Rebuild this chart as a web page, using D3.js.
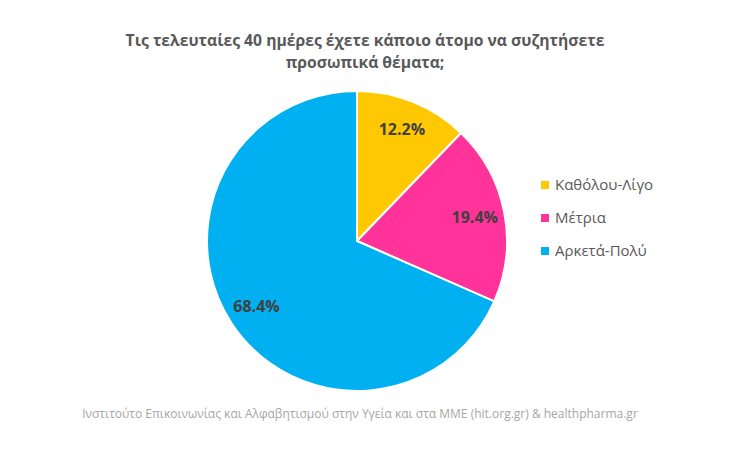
<!DOCTYPE html>
<html>
<head>
<meta charset="utf-8">
<script src="https://cdn.jsdelivr.net/npm/d3@7"></script>
<style>
  body { margin: 0; background: #fff; }
  text { font-family: "Open Sans", sans-serif; }
</style>
</head>
<body>
<div id="chart"></div>
<script>
// Data
const categories = ['Καθόλου-Λίγο', 'Μέτρια', 'Αρκετά-Πολύ']
const values = [12.2, 19.4, 68.4]
const colors = ['#FFC800', '#FF3399', '#00B0F0']
const titleLines = ['Τις τελευταίες 40 ημέρες έχετε κάποιο άτομο να συζητήσετε', 'προσωπικά θέματα;']
const source = 'Ινστιτούτο Επικοινωνίας και Αλφαβητισμού στην Υγεία και στα ΜΜΕ (hit.org.gr) & healthpharma.gr'

const width = 730
const height = 465
const cx = 357
const cy = 241
const radius = 150

const svg = d3.select('#chart')
  .append('svg')
  .attr('width', width)
  .attr('height', height)

// Title
svg.append('text')
  .attr('text-anchor', 'middle')
  .attr('font-size', 15.7)
  .attr('font-weight', 'bold')
  .attr('fill', '#595959')
  .selectAll('tspan')
  .data(titleLines)
  .enter().append('tspan')
  .attr('x', 365)
  .attr('y', (d, i) => 46 + i * 22)
  .text(d => d)

// Pie
const pie = d3.pie().sort(null).value(d => d)
const arc = d3.arc().innerRadius(0).outerRadius(radius)
const labelArc = d3.arc().innerRadius(radius * 0.8).outerRadius(radius * 0.8)

const g = svg.append('g').attr('transform', `translate(${cx}, ${cy})`)

g.selectAll('path')
  .data(pie(values))
  .enter().append('path')
  .attr('d', arc)
  .attr('fill', (d, i) => colors[i])
  .attr('stroke', '#fff')
  .attr('stroke-width', 2)

g.selectAll('text')
  .data(pie(values))
  .enter().append('text')
  .attr('transform', d => `translate(${labelArc.centroid(d)})`)
  .attr('text-anchor', 'middle')
  .attr('dy', '0.35em')
  .attr('font-size', 16)
  .attr('font-weight', 'bold')
  .attr('fill', '#404040')
  .text(d => d3.format('.1f')(d.data) + '%')

// Legend
const legend = svg.append('g').attr('transform', 'translate(541, 185)')
const rows = legend.selectAll('g')
  .data(categories)
  .enter().append('g')
  .attr('transform', (d, i) => `translate(0, ${i * 33})`)

rows.append('rect')
  .attr('x', 0)
  .attr('y', -4)
  .attr('width', 8)
  .attr('height', 8)
  .attr('fill', (d, i) => colors[i])

rows.append('text')
  .attr('x', 14)
  .attr('dy', '0.35em')
  .attr('font-size', 15)
  .attr('fill', '#595959')
  .text(d => d)

// Source
svg.append('text')
  .attr('x', 360)
  .attr('y', 418)
  .attr('text-anchor', 'middle')
  .attr('font-size', 12)
  .attr('fill', '#A6A6A6')
  .text(source)
</script>
</body>
</html>
